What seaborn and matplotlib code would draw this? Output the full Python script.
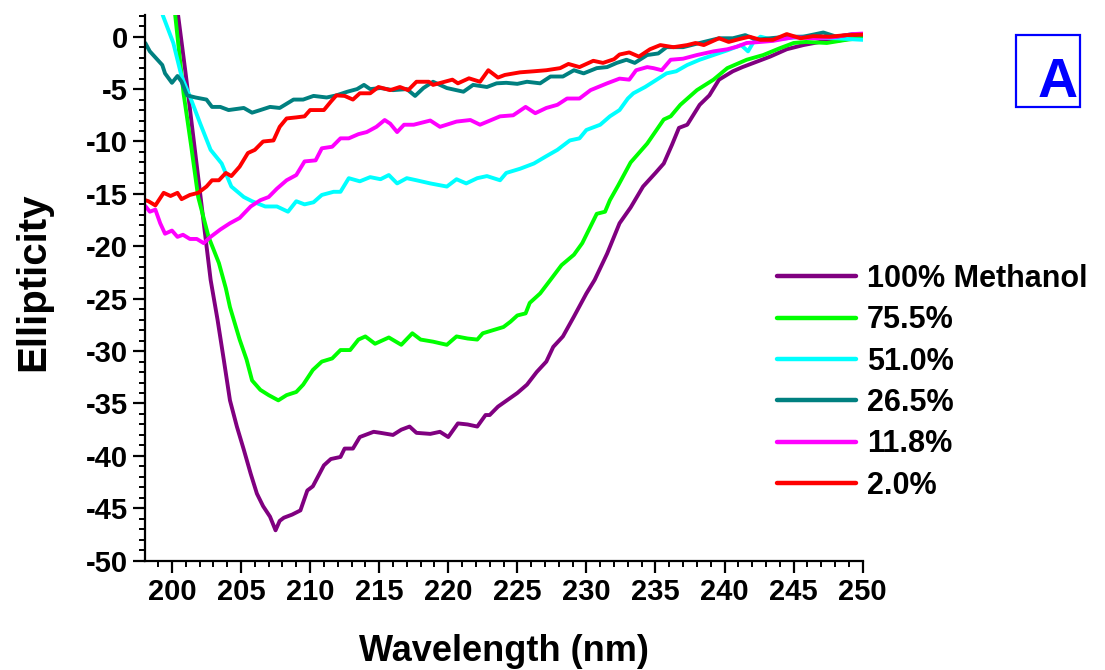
import numpy as np
import pandas as pd
import matplotlib
matplotlib.use("Agg")
import matplotlib.pyplot as plt
from matplotlib.ticker import MultipleLocator
from matplotlib.patches import Rectangle
import seaborn as sns

# ---- data ----
labels = ["100% Methanol", "75.5%", "51.0%", "26.5%", "11.8%", "2.0%"]
colors = ["#800080", "#00FF00", "#00FFFF", "#008080", "#FF00FF", "#FF0000"]

wl_100 = [198, 199.5, 200.45, 201, 202, 202.8, 203.3, 203.75, 204.2, 204.7, 205.2, 205.7, 206.15, 206.6,
          207.1, 207.5, 207.8, 208.1, 208.7, 209.3, 209.8, 210.2, 211, 211.5, 212.2, 212.5, 213.1, 213.6,
          214.6, 215.1, 216, 216.6, 217.2, 217.7, 218.7, 219.4, 220, 220.7, 221.4, 222.1, 222.7, 223.0,
          223.6, 225, 225.7, 226.4, 227.1, 227.6, 228.3, 229.1, 230, 230.6, 231.5, 232.4, 233.2, 234.1,
          235.0, 235.6, 236.2, 236.7, 237.3, 238.2, 238.9, 239.6, 240.6, 241.3, 242.1, 243.3, 244.5,
          245.7, 246.9, 248.1, 249.3, 250]
v_100 = [28, 12, 2, -3.6, -14.5, -23.2, -27.0, -30.8, -34.7, -37.2, -39.4, -41.7, -43.6, -44.8,
         -45.8, -47.1, -46.2, -45.9, -45.6, -45.2, -43.3, -42.9, -40.9, -40.3, -40.1, -39.3, -39.3, -38.2,
         -37.7, -37.8, -38.0, -37.5, -37.2, -37.8, -37.9, -37.7, -38.2, -36.9, -37.0, -37.2, -36.1, -36.1,
         -35.3, -34.0, -33.2, -32.0, -31.0, -29.6, -28.6, -26.7, -24.5, -23.2, -20.7, -17.8, -16.3, -14.3,
         -13.0, -12.1, -10.3, -8.7, -8.4, -6.5, -5.6, -4.1, -3.3, -2.9, -2.5, -1.9, -1.2,
         -0.8, -0.5, -0.4, -0.15, 0.0]

wl_75 = [198, 199.5, 200.24, 200.84, 201.4, 201.9, 202.65, 203.4, 203.9, 204.2, 204.9, 205.4, 205.8,
         206.4, 207.0, 207.7, 208.3, 209.0, 209.5, 210.2, 210.85, 211.6, 212.2, 212.9, 213.5, 214.0,
         214.7, 215.2, 215.7, 216.6, 217.4, 218.0, 218.9, 219.9, 220.6, 221.4, 222.1, 222.5, 224.0,
         224.5, 225.0, 225.6, 225.9, 226.65, 227.4, 228.2, 229.1, 229.7, 230.3, 230.75, 231.35, 231.7,
         232.3, 233.2, 234.4, 235.6, 236.1, 236.8, 238.0, 239.2, 240.2, 241.6, 242.8, 244.0, 245.0,
         245.9, 247.4, 248.8, 250]
v_75 = [25, 10, 2, -5.4, -10.5, -15.3, -19.1, -21.6, -24.0, -25.8, -28.9, -30.8, -32.8,
        -33.7, -34.2, -34.7, -34.2, -33.9, -33.2, -31.8, -31.0, -30.7, -29.9, -29.9, -28.9, -28.6,
        -29.3, -29.0, -28.7, -29.4, -28.3, -28.9, -29.1, -29.4, -28.6, -28.8, -28.9, -28.3, -27.7,
        -27.2, -26.6, -26.4, -25.4, -24.5, -23.2, -21.8, -20.8, -19.7, -18.1, -16.9, -16.7, -15.6,
        -14.2, -12.0, -10.2, -7.9, -7.6, -6.5, -5.1, -4.1, -3.0, -2.2, -1.75, -1.1, -0.6,
        -0.5, -0.6, -0.3, -0.1]

wl_51 = [198, 198.7, 199.35, 200.1, 200.7, 201.3, 202.05, 202.8, 203.6, 204.3, 205.2, 205.8, 206.75,
         207.6, 208.4, 209.0, 209.6, 210.25, 210.85, 211.7, 212.2, 212.8, 213.6, 214.35, 215.1, 215.7,
         216.3, 217.0, 217.7, 218.7, 219.9, 220.6, 221.3, 222.1, 222.8, 223.75, 224.2, 225.2, 226.2,
         227.1, 227.9, 228.8, 229.5, 230.0, 231.0, 231.7, 232.4, 233.0, 233.4, 234.25, 234.85, 235.8,
         236.5, 237.3, 238.2, 239.2, 240.2, 241.2, 241.7, 242.1, 242.6, 243.5, 244.5, 245.7, 246.9,
         248.1, 249.3, 250]
v_51 = [9, 5, 2, -0.6, -3.8, -5.7, -8.3, -10.8, -12.1, -14.3, -15.3, -15.7, -16.2,
        -16.2, -16.7, -15.7, -16.0, -15.8, -15.1, -14.8, -14.8, -13.5, -13.8, -13.4, -13.6, -13.2,
        -14.0, -13.5, -13.7, -14.0, -14.3, -13.6, -14.0, -13.5, -13.3, -13.7, -13.0, -12.6, -12.1,
        -11.4, -10.8, -9.9, -9.7, -8.9, -8.4, -7.6, -7.0, -5.9, -5.4, -4.8, -4.3, -3.5,
        -3.3, -2.7, -2.2, -1.75, -1.3, -0.8, -1.4, -0.5, 0.0, -0.3, -0.15, 0.0, -0.1,
        -0.15, -0.25, -0.3]

wl_26 = [198.07, 198.4, 199.3, 199.5, 200.0, 200.4, 200.7, 201.1, 201.7, 202.5, 202.9, 203.5, 204.1,
         205.2, 205.8, 206.4, 207.1, 207.8, 208.8, 209.5, 210.25, 211.2, 211.9, 212.7, 213.4, 213.9,
         214.35, 215.1, 216.0, 217.0, 217.6, 218.2, 218.9, 219.9, 221.1, 221.8, 222.8, 223.5, 224.2,
         225.0, 225.7, 226.65, 227.4, 228.3, 229.1, 229.8, 230.75, 231.5, 232.2, 232.9, 233.5, 234.4,
         235.2, 235.8, 237.0, 238.2, 239.6, 240.6, 241.5, 242.3, 243.3, 244.5, 245.7, 247.15, 248.1,
         249.3, 250]
v_26 = [-0.6, -1.4, -2.7, -3.5, -4.4, -3.75, -4.3, -5.6, -5.8, -6.0, -6.7, -6.7, -7.0,
        -6.8, -7.25, -7.0, -6.7, -6.8, -6.0, -6.0, -5.65, -5.8, -5.6, -5.25, -5.0, -4.6,
        -5.0, -4.9, -5.1, -5.0, -5.65, -4.9, -4.3, -4.9, -5.25, -4.6, -4.8, -4.45, -4.4,
        -4.5, -4.3, -4.45, -3.8, -3.8, -3.2, -3.5, -3.0, -2.9, -2.5, -2.2, -2.5, -1.75,
        -1.6, -1.0, -1.0, -0.6, -0.15, -0.15, 0.15, -0.3, -0.15, 0.0, 0.0, 0.4, 0.0,
        0.25, 0.2]

wl_11 = [198.07, 198.4, 198.8, 199.15, 199.5, 200.0, 200.4, 200.8, 201.3, 201.8, 202.3, 202.8, 203.5,
         204.2, 204.9, 205.7, 206.4, 207.0, 207.6, 208.3, 209.0, 209.6, 210.4, 210.85, 211.6, 212.2,
         212.8, 213.5, 214.1, 214.8, 215.4, 215.8, 216.3, 216.8, 217.5, 218.7, 219.4, 220.6, 221.6,
         222.3, 223.75, 224.7, 225.6, 226.3, 227.1, 227.9, 228.6, 229.5, 230.3, 231.5, 232.4, 233.1,
         233.6, 234.4, 234.85, 235.45, 236.1, 237.0, 238.0, 239.2, 240.2, 240.9, 241.6, 242.6, 243.5,
         245.0, 246.4, 247.9, 249.3, 250]
v_11 = [-16.15, -16.7, -16.5, -17.8, -18.8, -18.5, -19.1, -18.9, -19.3, -19.3, -19.7, -19.1, -18.4,
        -17.8, -17.3, -16.2, -15.6, -15.3, -14.5, -13.7, -13.2, -11.9, -11.8, -10.65, -10.5, -9.7,
        -9.7, -9.3, -9.1, -8.6, -7.95, -8.3, -9.1, -8.4, -8.4, -8.0, -8.6, -8.1, -7.95,
        -8.4, -7.6, -7.5, -6.7, -7.3, -6.8, -6.5, -5.9, -5.9, -5.1, -4.45, -4.0, -4.1,
        -3.2, -2.9, -3.0, -3.2, -2.2, -2.1, -1.75, -1.4, -1.2, -0.95, -0.6, -0.5, -0.4,
        -0.05, -0.15, -0.05, 0.25, 0.3]

wl_2 = [198.07, 198.3, 198.8, 199.4, 199.9, 200.4, 200.7, 201.3, 201.9, 202.5, 202.9, 203.4, 203.9,
        204.3, 204.9, 205.5, 206.0, 206.6, 207.35, 207.8, 208.3, 209.0, 209.6, 210.0, 211.0, 211.5,
        211.9, 212.5, 213.1, 213.6, 214.35, 214.95, 215.8, 216.5, 217.1, 217.7, 218.6, 218.9, 220.3,
        220.7, 221.5, 222.3, 222.9, 223.6, 224.1, 225.2, 226.2, 227.1, 228.1, 228.7, 229.5, 230.5,
        231.2, 232.0, 232.4, 233.1, 233.8, 234.6, 235.35, 236.3, 237.3, 237.9, 238.5, 239.6, 240.3,
        241.0, 241.8, 242.6, 243.5, 244.5, 245.5, 246.4, 247.6, 248.8, 250]
v_2 = [-15.6, -15.7, -16.1, -14.9, -15.2, -14.9, -15.5, -15.1, -14.9, -14.3, -13.7, -13.7, -13.0,
       -13.3, -12.4, -11.1, -10.8, -10.0, -9.9, -8.6, -7.8, -7.7, -7.6, -7.0, -7.0, -6.2,
       -5.6, -5.65, -6.0, -5.4, -5.4, -4.8, -5.1, -4.8, -5.1, -4.3, -4.3, -4.6, -4.1,
       -4.45, -3.97, -4.3, -3.2, -3.9, -3.65, -3.4, -3.3, -3.2, -3.0, -2.6, -2.9, -2.3,
       -2.5, -2.15, -1.7, -1.5, -1.9, -1.2, -0.8, -1.0, -0.8, -0.6, -0.8, -0.15, -0.5,
       -0.25, 0.0, -0.3, -0.3, 0.25, -0.15, 0.05, 0.0, 0.15, 0.2]

x_ticks = [200, 205, 210, 215, 220, 225, 230, 235, 240, 245, 250]
y_ticks = [-50, -45, -40, -35, -30, -25, -20, -15, -10, -5, 0]

series_x = [wl_100, wl_75, wl_51, wl_26, wl_11, wl_2]
series_y = [v_100, v_75, v_51, v_26, v_11, v_2]

frames = []
for lab, xs, ys in zip(labels, series_x, series_y):
    frames.append(pd.DataFrame({"Wavelength": xs, "Ellipticity": ys, "Sample": lab}))
df = pd.concat(frames, ignore_index=True)

# ---- style ----
sns.set_style("ticks")
plt.rcParams["font.family"] = ["Liberation Sans", "DejaVu Sans"]
plt.rcParams["font.weight"] = "bold"
plt.rcParams["axes.unicode_minus"] = False
for k in ["text.color", "axes.labelcolor", "xtick.color", "ytick.color", "axes.edgecolor"]:
    plt.rcParams[k] = "black"

fig = plt.figure(figsize=(11.05, 6.7), dpi=100)
ax = fig.add_axes([145 / 1105, 1 - 560.7 / 670, (862.7 - 145) / 1105, (560.7 - 15) / 670])

sns.lineplot(data=df, x="Wavelength", y="Ellipticity", hue="Sample", hue_order=labels,
             palette=dict(zip(labels, colors)), estimator=None, sort=False,
             linewidth=2.8, ax=ax, legend=True)

ax.set_xlim(198.05, 250)
ax.set_ylim(-50, 2.07)
ax.set_xticks(x_ticks)
ax.set_yticks(y_ticks)
ax.set_xticklabels([str(t) for t in x_ticks])
ax.set_yticklabels([str(t) for t in y_ticks])
ax.xaxis.set_minor_locator(MultipleLocator(1))
ax.yaxis.set_minor_locator(MultipleLocator(1))

for s in ["top", "right"]:
    ax.spines[s].set_visible(False)
for s in ["left", "bottom"]:
    ax.spines[s].set_linewidth(1.6)
    ax.spines[s].set_color("black")

ax.tick_params(axis="both", which="major", direction="out", length=8.5, width=1.6,
               labelsize=21, colors="black", labelcolor="black", pad=4)
ax.tick_params(axis="both", which="minor", direction="out", length=4.5, width=1.4, colors="black")
for lbl in ax.get_xticklabels() + ax.get_yticklabels():
    lbl.set_fontweight("bold")
    lbl.set_color("black")

ax.set_xlabel("Wavelength (nm)", fontsize=26, fontweight="bold", labelpad=20, color="black")
ax.set_ylabel("Ellipticity", fontsize=29, fontweight="bold", labelpad=24, color="black")
ax.yaxis.label.set_y(0.512)

handles, labs = ax.get_legend_handles_labels()
leg = ax.legend(handles, labs, loc="upper left", bbox_to_anchor=(777 / 1105, 1 - 264 / 670),
                bbox_transform=fig.transFigure, frameon=False,
                prop={"weight": "bold", "size": 22}, handlelength=2.6, handletextpad=0.35,
                labelspacing=0.37, borderpad=0, borderaxespad=0)
for ln in leg.get_lines():
    ln.set_linewidth(3.2)
for t in leg.get_texts():
    t.set_color("black")

# panel label "A"
fig.patches.append(Rectangle((1016 / 1105, 1 - 107 / 670), 64 / 1105, 72 / 670,
                             transform=fig.transFigure, fill=False, edgecolor="#0000FF",
                             linewidth=1.6))
fig.text(1058 / 1105, 1 - 97 / 670, "A", color="#0000FF", fontsize=40, fontweight="bold",
         ha="center", va="baseline")

fig.savefig("out.png", dpi=100)
